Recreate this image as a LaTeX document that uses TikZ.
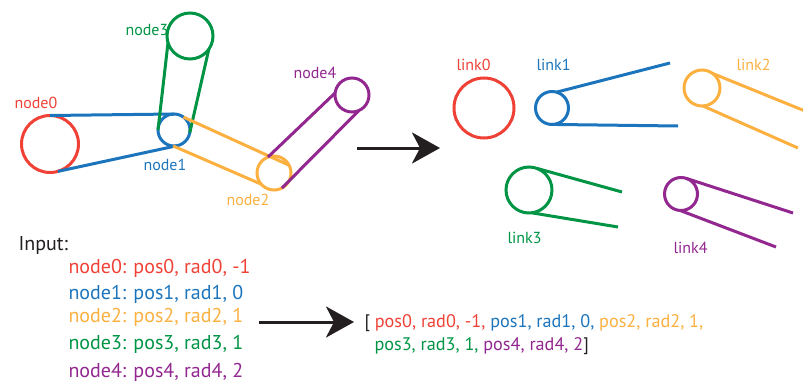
\documentclass[tikz,border=0pt]{standalone}
\usepackage{fontspec}
\setmainfont{PT Sans}
\usetikzlibrary{arrows.meta}
\definecolor{cred}{HTML}{EF4136}
\definecolor{cblue}{HTML}{1C75BC}
\definecolor{corange}{HTML}{FBB040}
\definecolor{cgreen}{HTML}{009444}
\definecolor{cpurple}{HTML}{92278F}
\definecolor{cblack}{HTML}{231F20}
\begin{document}
\begin{tikzpicture}[x=1pt,y=-1pt,line width=3pt,
  joint/.style={circle,draw,inner sep=0pt,outer sep=0pt,minimum size=#1},
  lbl/.style={font=\fontsize{16}{18}\selectfont,anchor=base west,inner sep=0pt},
  txt/.style={font=\fontsize{20}{24}\selectfont,anchor=base west,inner sep=0pt},
  outtxt/.style={font=\fontsize{18.2}{22}\selectfont,anchor=base west,inner sep=0pt},
  bigarrow/.style={cblack,line width=3pt,-{Stealth[length=28pt,width=31pt,inset=8pt]}}]
\useasboundingbox (0,0) rectangle (803,388);
% ---------- assembled skeleton ----------
\node[joint=57pt,draw=cred]     (n0) at (50,144) {};
\node[joint=32pt,draw=cblue]    (n1) at (174,130) {};
\node[joint=34pt,draw=corange]  (n2) at (274,173) {};
\node[joint=46pt,draw=cgreen]   (n3) at (190,36) {};
\node[joint=34pt,draw=cpurple]  (n4) at (352,95) {};
\draw[cblue]   (n0.90) -- (n1.90);
\draw[cblue]   (n0.-74) -- (n1.-80);
\draw[cgreen]  (n3.197) -- (n1.180);
\draw[cgreen]  (n3.-35) -- (n1.-10);
\draw[corange] (n1.54) -- (n2.27);
\draw[corange] (n1.267) -- (n2.221);
\draw[cpurple] (n4.173) -- (n2.111);
\draw[cpurple] (n4.-66) -- (n2.-62);
\node[lbl,text=cred]    (l0) at (13,108) {node0};
\node[lbl,text=cblue]   (l1) at (142,170) {node1};
\node[lbl,text=corange] (l2) at (225,205) {node2};
\node[lbl,text=cgreen]  (l3) at (124,35) {node3};
\node[lbl,text=cpurple] (l4) at (292,78) {node4};
% ---------- arrow 1 ----------
\coordinate (a1s) at (357,148);
\coordinate (a1e) at (440,148);
\draw[bigarrow] (a1s) -- (a1e);
% ---------- separate links ----------
\node[joint=60pt,draw=cred]    (k0) at (484,108) {};
\node[joint=33pt,draw=cblue]   (k1) at (552,108) {};
\node[joint=36pt,draw=corange] (k2) at (702,88) {};
\node[joint=46pt,draw=cgreen]  (k3) at (529,190) {};
\node[joint=33pt,draw=cpurple] (k4) at (681,194) {};
\coordinate (k1a) at (670,63);  \coordinate (k1b) at (678,126);
\coordinate (k2a) at (805,111); \coordinate (k2b) at (798,148);
\coordinate (k3a) at (622,192); \coordinate (k3b) at (618,227);
\coordinate (k4a) at (793,213); \coordinate (k4b) at (776,247);
\draw[cblue]   (k1.74) -- (k1a);  \draw[cblue]   (k1.-96) -- (k1b);
\draw[corange] (k2.54) -- (k2a);  \draw[corange] (k2.-87) -- (k2b);
\draw[cgreen]  (k3.71) -- (k3a);  \draw[cgreen]  (k3.-83) -- (k3b);
\draw[cpurple] (k4.71) -- (k4a);  \draw[cpurple] (k4.-93) -- (k4b);
\node[lbl,text=cred]    (m0) at (455,70) {link0};
\node[lbl,text=cblue]   (m1) at (535,70) {link1};
\node[lbl,text=corange] (m2) at (735,70) {link2};
\node[lbl,text=cgreen]  (m3) at (506,243) {link3};
\node[lbl,text=cpurple] (m4) at (672,253) {link4};
% ---------- input text ----------
\node[txt,text=cblack]  (in)  at (17,250) {Input:};
\node[txt,text=cred]    (t0)  at (67,273) {node0: pos0, rad0, -1};
\node[txt,text=cblue]   (t1)  at (67,299) {node1: pos1, rad1, 0};
\node[txt,text=corange] (t2)  at (67,322) {node2: pos2, rad2, 1};
\node[txt,text=cgreen]  (t3)  at (67,349) {node3: pos3, rad3, 1};
\node[txt,text=cpurple] (t4)  at (67,377) {node4: pos4, rad4, 2};
% ---------- arrow 2 ----------
\coordinate (a2s) at (259,322);
\coordinate (a2e) at (354,322);
\draw[bigarrow] (a2s) -- (a2e);
% ---------- output ----------
\node[outtxt] (o1) at (363,327) {\textcolor{cblack}{[}\ \textcolor{cred}{pos0, rad0, -1,} \textcolor{cblue}{pos1, rad1, 0,} \textcolor{corange}{pos2, rad2, 1,}};
\node[outtxt] (o2) at (373,350) {\textcolor{cgreen}{pos3, rad3, 1,} \textcolor{cpurple}{pos4, rad4, 2}\textcolor{cblack}{]}};
\end{tikzpicture}
\end{document}
